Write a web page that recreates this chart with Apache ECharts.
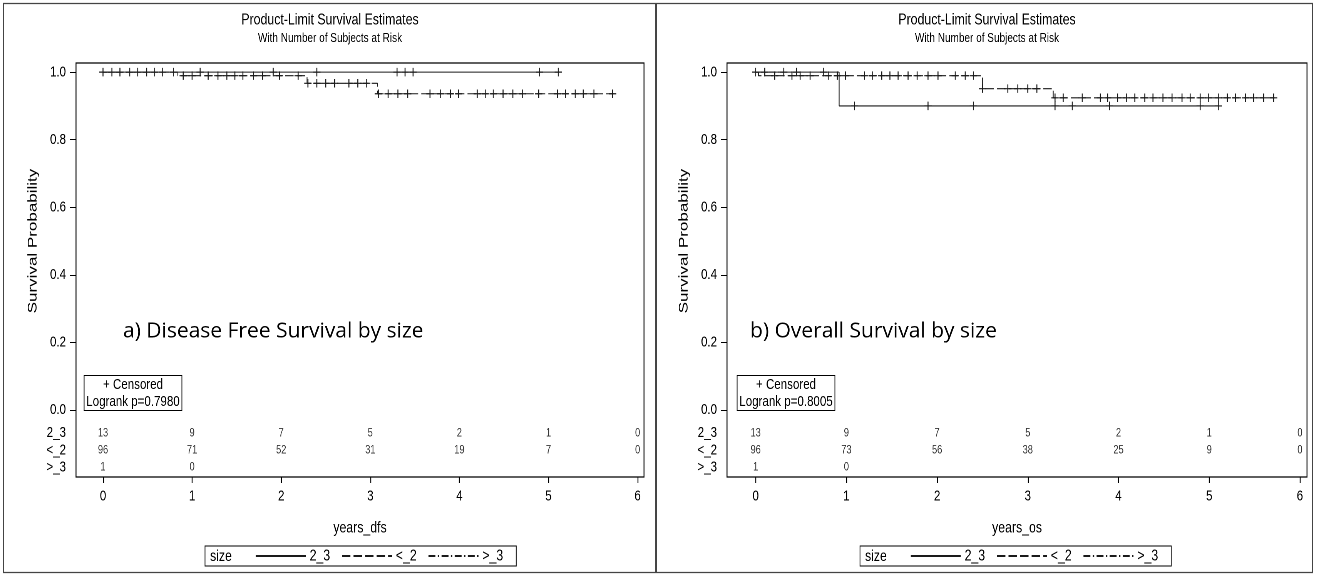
<!DOCTYPE html>
<html><head><meta charset="utf-8">
<script src="https://cdn.jsdelivr.net/npm/echarts@6/dist/echarts.min.js"></script>
<style>html,body{margin:0;padding:0;background:#fff;overflow:hidden;width:1317px;height:576px}
#c{height:576px;transform-origin:0 0}</style>
</head><body><div id="c"></div>
<script>
// ---------- data ----------
const timeTicks = [0, 1, 2, 3, 4, 5, 6];
const yTicks = [0, 0.2, 0.4, 0.6, 0.8, 1.0];
const groups = ['2_3', '<_2', '>_3'];

// a) Disease free survival: step points [time, survival]
const dfsStep23  = [[0, 1], [5.11, 1]];
const dfsStepLt2 = [[0, 1], [0.84, 0.9896], [2.29, 0.967], [3.08, 0.936], [5.73, 0.936]];
const dfsStepGt3 = [[0, 1], [0.49, 1]];
// censoring times
const dfsCens23  = [0.10, 0.39, 0.58, 0.79, 1.09, 1.91, 2.40, 3.30, 3.39, 3.48, 4.90, 5.11];
const dfsCensLt2 = [0.00, 0.19, 0.30, 0.67, 0.90, 1.00, 1.18, 1.29, 1.39, 1.48, 1.57, 1.69, 1.79, 1.98, 2.19,
                    2.30, 2.40, 2.50, 2.60, 2.76, 2.86, 2.96,
                    3.09, 3.20, 3.31, 3.42, 3.67, 3.79, 3.90, 3.99, 4.20, 4.29, 4.38, 4.49, 4.60, 4.71,
                    4.89, 5.10, 5.19, 5.30, 5.39, 5.51, 5.72];
const dfsCensGt3 = [0.49];
// numbers at risk
const dfsRisk23  = [13, 9, 7, 5, 2, 1, 0];
const dfsRiskLt2 = [96, 71, 52, 31, 19, 7, 0];
const dfsRiskGt3 = [1, 0];

// b) Overall survival
const osStep23  = [[0, 1], [0.92, 0.90], [5.10, 0.90]];
const osStepLt2 = [[0, 1], [0.03, 0.9896], [2.50, 0.951], [3.28, 0.924], [5.72, 0.924]];
const osStepGt3 = [[0, 1], [0.31, 1]];
const osCens23  = [0.10, 0.45, 0.75, 1.09, 1.90, 2.40, 3.30, 3.49, 3.90, 4.90, 5.10];
const osCensLt2 = [0.00, 0.21, 0.40, 0.49, 0.60, 0.80, 0.90, 0.99, 1.20, 1.29, 1.39, 1.48, 1.57, 1.68, 1.78, 1.90, 2.01,
                   2.20, 2.31, 2.40, 2.50, 2.78, 2.89, 3.00, 3.10,
                   3.30, 3.39, 3.60, 3.80, 3.88, 3.99, 4.09, 4.18, 4.29, 4.38, 4.49, 4.59, 4.70, 4.79,
                   4.90, 4.99, 5.10, 5.20, 5.29, 5.40, 5.49, 5.60, 5.71];
const osCensGt3 = [0.31];
const osRisk23  = [13, 9, 7, 5, 2, 1, 0];
const osRiskLt2 = [96, 73, 56, 38, 25, 9, 0];
const osRiskGt3 = [1, 0];

// ---------- layout / style ----------
// the reference is horizontally compressed; draw wider and squeeze with CSS
const S = 0.77;
const W = Math.round(1317 / S);
const X = px => px / S;           // reference pixel -> chart pixel (horizontal)
const F = "'Liberation Sans',Arial,Helvetica,sans-serif";
const INK = '#1a1a1a';
const riskRowY = [-0.068, -0.119, -0.169];
const lineTypes = ['solid', [11, 4], [9, 3, 2, 3]];
const plusPath = 'path://M4,0L4,8M0,4L8,4';

const panels = [
  { steps: [dfsStep23, dfsStepLt2, dfsStepGt3], cens: [dfsCens23, dfsCensLt2, dfsCensGt3],
    risk: [dfsRisk23, dfsRiskLt2, dfsRiskGt3], xName: 'years_dfs', p: 'Logrank p=0.7980',
    note: 'a) Disease Free Survival by size',
    gx0: 76, gx1: 644, xMin: -0.303, xMax: 6.072, yNameX: 33,
    titleX: 330, boxX: 133, noteX: 123, legendX: 205 },
  { steps: [osStep23, osStepLt2, osStepGt3], cens: [osCens23, osCensLt2, osCensGt3],
    risk: [osRisk23, osRiskLt2, osRiskGt3], xName: 'years_os', p: 'Logrank p=0.8005',
    note: 'b) Overall Survival by size',
    gx0: 727, gx1: 1307, xMin: -0.316, xMax: 6.078, yNameX: 684,
    titleX: 987, boxX: 786, noteX: 750, legendX: 860 }
];
const gTop = 63, gBottom = 477;
const yMin = -0.198, yMax = 1.027;

function survAt(steps, t) {
  let s = steps[0][1];
  for (const p of steps) if (p[0] <= t + 1e-9) s = p[1];
  return s;
}

const grids = [], xAxes = [], yAxes = [], series = [], titles = [], legends = [], graphics = [];

panels.forEach((P, i) => {
  grids.push({ show: true, borderColor: '#000', borderWidth: 1.2, backgroundColor: 'transparent',
               left: X(P.gx0), width: X(P.gx1) - X(P.gx0), top: gTop, height: gBottom - gTop });
  xAxes.push({
    type: 'value', gridIndex: i, min: P.xMin, max: P.xMax,
    axisLine: { show: false, onZero: false },
    axisTick: { show: true, inside: false, length: 6, customValues: timeTicks, lineStyle: { color: '#000', width: 1.2 } },
    axisLabel: { customValues: timeTicks, margin: 12, fontSize: 15, color: '#000', fontFamily: F },
    splitLine: { show: false },
    name: P.xName, nameLocation: 'middle', nameGap: 43,
    nameTextStyle: { fontSize: 16, color: '#000', fontFamily: F }
  });
  yAxes.push({
    type: 'value', gridIndex: i, min: yMin, max: yMax,
    axisLine: { show: false, onZero: false },
    axisTick: { show: true, inside: false, length: X(6), customValues: yTicks, lineStyle: { color: '#000' } },
    axisLabel: {
      customValues: yTicks.concat(riskRowY), margin: X(10), fontSize: 15, color: '#000', fontFamily: F,
      formatter: v => {
        if (v < -0.01) {
          let k = 0, d = 1e9;
          riskRowY.forEach((r, j) => { if (Math.abs(r - v) < d) { d = Math.abs(r - v); k = j; } });
          return groups[k];
        }
        return v.toFixed(1);
      }
    },
    splitLine: { show: false }
  });

  groups.forEach((g, k) => {
    series.push({
      type: 'line', name: g, xAxisIndex: i, yAxisIndex: i, step: 'end',
      symbol: 'none', data: P.steps[k],
      lineStyle: { color: INK, width: 1.1, type: lineTypes[k] },
      itemStyle: { color: 'transparent', borderColor: 'transparent' },
      emphasis: { disabled: true }, silent: true, z: 3
    });
    series.push({
      type: 'scatter', name: 'cens' + i + k, xAxisIndex: i, yAxisIndex: i,
      symbol: plusPath, symbolSize: [9.5, 8.5],
      data: P.cens[k].map(t => [t, survAt(P.steps[k], t)]),
      itemStyle: { color: 'transparent', borderColor: INK, borderWidth: 1.2, opacity: 1 },
      emphasis: { disabled: true }, silent: true, z: 4
    });
    series.push({
      type: 'scatter', name: 'risk' + i + k, xAxisIndex: i, yAxisIndex: i,
      symbolSize: 1, itemStyle: { color: 'transparent' },
      data: P.risk[k].map((n, j) => [timeTicks[j], riskRowY[k], n]),
      label: { show: true, position: 'inside', formatter: p => String(p.value[2]),
               fontSize: 12, color: '#000', fontFamily: F },
      emphasis: { disabled: true }, silent: true, z: 4
    });
  });

  titles.push({
    text: 'Product-Limit Survival Estimates', subtext: 'With Number of Subjects at Risk',
    left: X(P.titleX), top: 12, textAlign: 'center', itemGap: 4, padding: 0,
    textStyle: { fontSize: 16, fontWeight: 'normal', color: '#000', fontFamily: F },
    subtextStyle: { fontSize: 13, color: '#000', fontFamily: F }
  });
  titles.push({
    text: '+ Censored', subtext: P.p, left: X(P.boxX) - 3, top: 375, textAlign: 'center', itemGap: 1,
    padding: [2, 3, 1, 3], borderColor: '#000', borderWidth: 1, backgroundColor: '#fff',
    textStyle: { fontSize: 15, fontWeight: 'normal', color: '#000', fontFamily: F, lineHeight: 16 },
    subtextStyle: { fontSize: 15, color: '#000', fontFamily: F, lineHeight: 16 }
  });
  legends.push({
    data: groups.slice(), left: X(P.legendX), top: 546, orient: 'horizontal',
    padding: [2, X(13), 2, X(50)], itemWidth: X(50), itemHeight: 14, itemGap: X(11),
    borderColor: '#000', borderWidth: 1, borderRadius: 0, backgroundColor: '#fff',
    selectedMode: false,
    itemStyle: { color: 'transparent', borderColor: 'transparent', borderWidth: 0 },
    textStyle: { fontSize: 16, color: '#000', fontFamily: F }
  });
  graphics.push({
    type: 'text', x: X(P.legendX + 5), y: 548.5, z: 100,
    style: { text: 'size', fontSize: 16, fontFamily: F, fill: '#000' }
  });
  // y axis title, centred on the 0..1 range
  graphics.push({
    type: 'text', x: X(P.yNameX), y: 241, rotation: Math.PI / 2, z: 100,
    style: { text: 'Survival Probability', fontSize: 17, fontFamily: F, fill: '#000',
             align: 'center', verticalAlign: 'middle' }
  });
  // annotation overlay text (not compressed in the reference)
  graphics.push({
    type: 'text', x: X(P.noteX), y: 321, scaleX: 1 / S, z: 100,
    style: { text: P.note, fontSize: 21, fontFamily: "'Open Sans','Noto Sans',sans-serif", fill: '#000' }
  });
});

graphics.push({ type: 'rect', shape: { x: X(3.5), y: 3.5, width: X(652), height: 569 }, style: { fill: 'none', stroke: '#444', lineWidth: 1.2 }, z: -1 });
graphics.push({ type: 'rect', shape: { x: X(656.5), y: 3.5, width: X(656), height: 569 }, style: { fill: 'none', stroke: '#444', lineWidth: 1.2 }, z: -1 });

const dom = document.getElementById('c');
dom.style.width = W + 'px';
dom.style.transform = 'scaleX(' + S + ')';
const chart = echarts.init(dom, null, { renderer: 'canvas', devicePixelRatio: 2 });
chart.setOption({
  animation: false, backgroundColor: '#fff',
  title: titles, grid: grids, xAxis: xAxes, yAxis: yAxes, legend: legends,
  series: series, graphic: graphics
});
</script></body></html>
